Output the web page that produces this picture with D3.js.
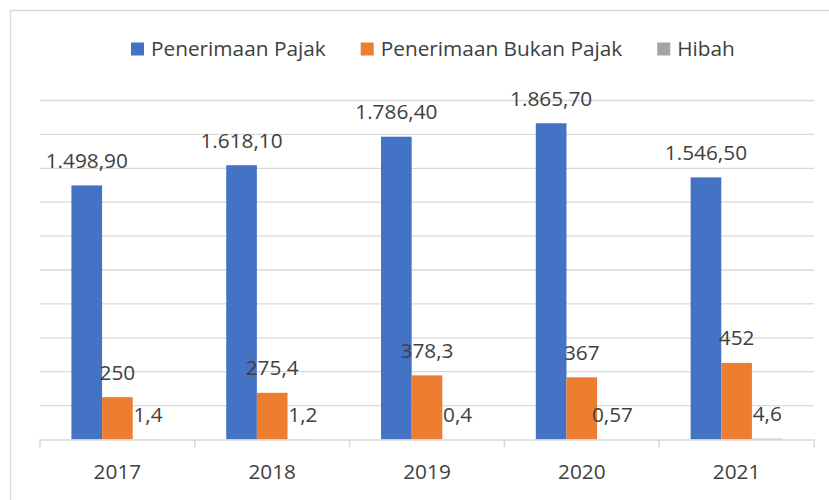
<!DOCTYPE html>
<html>
<head>
<meta charset="utf-8">
<script src="https://cdn.jsdelivr.net/npm/d3@7"></script>
<style>
  html, body { margin: 0; padding: 0; background: #ffffff; }
  svg { display: block; }
  text { font-family: "Open Sans", "Noto Sans", sans-serif; fill: #404040; }
</style>
</head>
<body>
<svg id="chart" width="829" height="500"></svg>
<script>
const years = ["2017", "2018", "2019", "2020", "2021"];
const seriesNames = ["Penerimaan Pajak", "Penerimaan Bukan Pajak", "Hibah"];
const penerimaanPajak = [1498.9, 1618.1, 1786.4, 1865.7, 1546.5];
const penerimaanBukanPajak = [250, 275.4, 378.3, 367, 452];
const hibah = [1.4, 1.2, 0.4, 0.57, 4.6];
const labelsPajak = ["1.498,90", "1.618,10", "1.786,40", "1.865,70", "1.546,50"];
const labelsBukanPajak = ["250", "275,4", "378,3", "367", "452"];
const labelsHibah = ["1,4", "1,2", "0,4", "0,57", "4,6"];
const colors = ["#4472C4", "#ED7D31", "#A5A5A5"];
const yTicks = [0, 200, 400, 600, 800, 1000, 1200, 1400, 1600, 1800, 2000];

const seriesValues = [penerimaanPajak, penerimaanBukanPajak, hibah];
const seriesLabels = [labelsPajak, labelsBukanPajak, labelsHibah];

(function () {
const svg = d3.select("#chart");
const pLeft = 40, pRight = 814, pTop = 100.5, pBottom = 439.5;

// outer chart border (cropped on the right/bottom)
svg.append("path")
  .attr("d", "M10.5,500 L10.5,10.5 L829,10.5")
  .attr("fill", "none").attr("stroke", "#d9d9d9").attr("stroke-width", 1.5);

const x = d3.scaleBand().domain(years).range([pLeft, pRight]).paddingInner(0).paddingOuter(0);
const xs = d3.scaleBand().domain(seriesNames).range([0, x.bandwidth()]).paddingInner(0).paddingOuter(1.025);
const y = d3.scaleLinear().domain([0, 2000]).range([pBottom, pTop]);

// gridlines
svg.append("g").selectAll("line").data(yTicks.slice(1)).join("line")
  .attr("x1", pLeft).attr("x2", pRight)
  .attr("y1", d => y(d)).attr("y2", d => y(d))
  .attr("stroke", "#d9d9d9").attr("stroke-width", 1.3);

// bars
const groups = svg.append("g").selectAll("g").data(years).join("g")
  .attr("transform", d => `translate(${x(d)},0)`);

seriesNames.forEach((name, si) => {
  groups.append("rect")
    .attr("x", xs(name))
    .attr("width", xs.bandwidth())
    .attr("y", (d, i) => y(seriesValues[si][i]))
    .attr("height", (d, i) => y(0) - y(seriesValues[si][i]))
    .attr("fill", colors[si]);
  groups.append("text")
    .attr("x", xs(name) + xs.bandwidth() / 2)
    .attr("y", (d, i) => y(seriesValues[si][i]) - 17.5)
    .attr("text-anchor", "middle")
    .attr("font-size", "20.8px")
    .text((d, i) => seriesLabels[si][i]);
});

// x axis
const xAxis = svg.append("g").attr("transform", `translate(0,${pBottom})`)
  .call(d3.axisBottom(x).tickSize(0).tickPadding(0).tickFormat(""));
xAxis.select(".domain").attr("stroke", "#d9d9d9").attr("stroke-width", 1.5);
xAxis.selectAll(".tick").remove();
const boundaries = years.map(d => x(d)).concat([pRight]);
xAxis.selectAll("line.sep").data(boundaries).join("line").attr("class", "sep")
  .attr("x1", d => d).attr("x2", d => d).attr("y1", 0).attr("y2", 8)
  .attr("stroke", "#d9d9d9").attr("stroke-width", 1.5);
xAxis.selectAll("text.yr").data(years).join("text").attr("class", "yr")
  .attr("x", d => x(d) + x.bandwidth() / 2)
  .attr("y", 39.5)
  .attr("text-anchor", "middle")
  .attr("font-size", "20.8px")
  .text(d => d);

// legend
const legend = svg.append("g");
let lx = 131;
seriesNames.forEach((name, i) => {
  legend.append("rect").attr("x", lx).attr("y", 42.5).attr("width", 13).attr("height", 13).attr("fill", colors[i]);
  const t = legend.append("text").attr("x", lx + 20).attr("y", 56)
    .attr("font-size", "20.8px").text(name);
  const w = t.node().getComputedTextLength();
  lx = lx + 20 + w + 35;
});
})();
</script>
</body>
</html>
